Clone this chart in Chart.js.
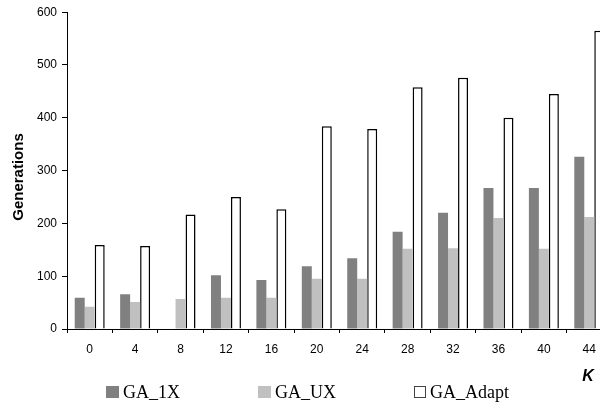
<!DOCTYPE html>
<html>
<head>
<meta charset="utf-8">
<script src="https://cdn.jsdelivr.net/npm/chart.js@4/dist/chart.umd.min.js"></script>
<style>
html,body{margin:0;padding:0;background:#fff;overflow:hidden;}
#wrap{width:600px;height:405px;overflow:hidden;position:relative;}
canvas{display:block;}
</style>
</head>
<body>
<div id="wrap"><canvas id="c" width="612" height="405"></canvas></div>
<script>
const categories = ["0","4","8","12","16","20","24","28","32","36","40","44"];
const ga1x   = [59, 66, 0, 102, 93, 119, 134, 184, 220, 267, 267, 326];
const gaUx   = [42, 51, 57, 59, 59, 95, 95, 152, 153, 210, 152, 212];
const gaAdapt= [159, 157, 217, 250, 227, 384, 379, 458, 476, 400, 445, 565];
const yTicks = [0, 100, 200, 300, 400, 500, 600];
const seriesNames = ["GA_1X", "GA_UX", "GA_Adapt"];
const yTitle = "Generations";
const xTitle = "K";

const extras = {
  id: 'extras',
  afterDraw(chart) {
    const ctx = chart.ctx;
    ctx.save();
    // y axis title
    ctx.fillStyle = '#000';
    ctx.font = 'bold 15px "Liberation Sans", Arial, sans-serif';
    ctx.textAlign = 'center';
    ctx.textBaseline = 'middle';
    ctx.save();
    ctx.translate(19, 177);
    ctx.rotate(-Math.PI / 2);
    ctx.fillText(yTitle, 0, 0);
    ctx.restore();
    // K axis label
    ctx.font = 'italic bold 16px "Liberation Sans", Arial, sans-serif';
    ctx.textBaseline = 'alphabetic';
    ctx.fillText(xTitle, 588, 381);
    // legend
    ctx.font = '18px "Liberation Serif", "Times New Roman", serif';
    ctx.textAlign = 'left';
    let x = 106;
    const top = 386;
    chart.data.datasets.forEach((ds) => {
      if (ds.backgroundColor === '#ffffff') {
        ctx.fillStyle = '#fff';
        ctx.fillRect(x + 0.5, top + 0.5, 11, 11);
        ctx.strokeStyle = '#444';
        ctx.lineWidth = 1;
        ctx.strokeRect(x + 0.5, top + 0.5, 11, 11);
        x += 12;
      } else {
        ctx.fillStyle = ds.backgroundColor;
        ctx.fillRect(x, top, 13, 12);
        x += 13;
      }
      x += 4;
      ctx.fillStyle = '#000';
      ctx.fillText(ds.label, x, top + 12);
      x += ctx.measureText(ds.label).width + 78;
    });
    ctx.restore();
  }
};

new Chart(document.getElementById('c'), {
  type: 'bar',
  data: {
    labels: categories,
    datasets: [
      { label: seriesNames[0], data: ga1x, backgroundColor: '#808080', borderWidth: 0 },
      { label: seriesNames[1], data: gaUx, backgroundColor: '#c0c0c0', borderWidth: 0 },
      { label: seriesNames[2], data: gaAdapt, backgroundColor: '#ffffff', borderColor: '#000000', borderWidth: 1.5 }
    ]
  },
  options: {
    responsive: false,
    animation: false,
    devicePixelRatio: 1,
    layout: { padding: { top: 12, left: 0, right: 0, bottom: 0 } },
    datasets: { bar: { categoryPercentage: 0.66, barPercentage: 1.0 } },
    plugins: { legend: { display: false }, tooltip: { enabled: false } },
    scales: {
      x: {
        grid: { display: true, drawOnChartArea: false, drawTicks: true, tickLength: 4, color: '#000', offset: true },
        border: { display: true, color: '#000', width: 1 },
        ticks: { color: '#000', font: { family: '"Liberation Sans", Arial, sans-serif', size: 12 }, padding: 9, maxRotation: 0, autoSkip: false },
        afterFit(scale) { scale.height = 76; }
      },
      y: {
        min: 0, max: 600,
        afterBuildTicks(scale) { scale.ticks = yTicks.map(v => ({ value: v })); },
        grid: { display: true, drawOnChartArea: false, drawTicks: true, tickLength: 5, color: '#000' },
        border: { display: true, color: '#000', width: 1 },
        ticks: { color: '#000', font: { family: '"Liberation Sans", Arial, sans-serif', size: 12 }, padding: 5 },
        afterFit(scale) { scale.width = 67; }
      }
    }
  },
  plugins: [extras]
});
</script>
</body>
</html>
